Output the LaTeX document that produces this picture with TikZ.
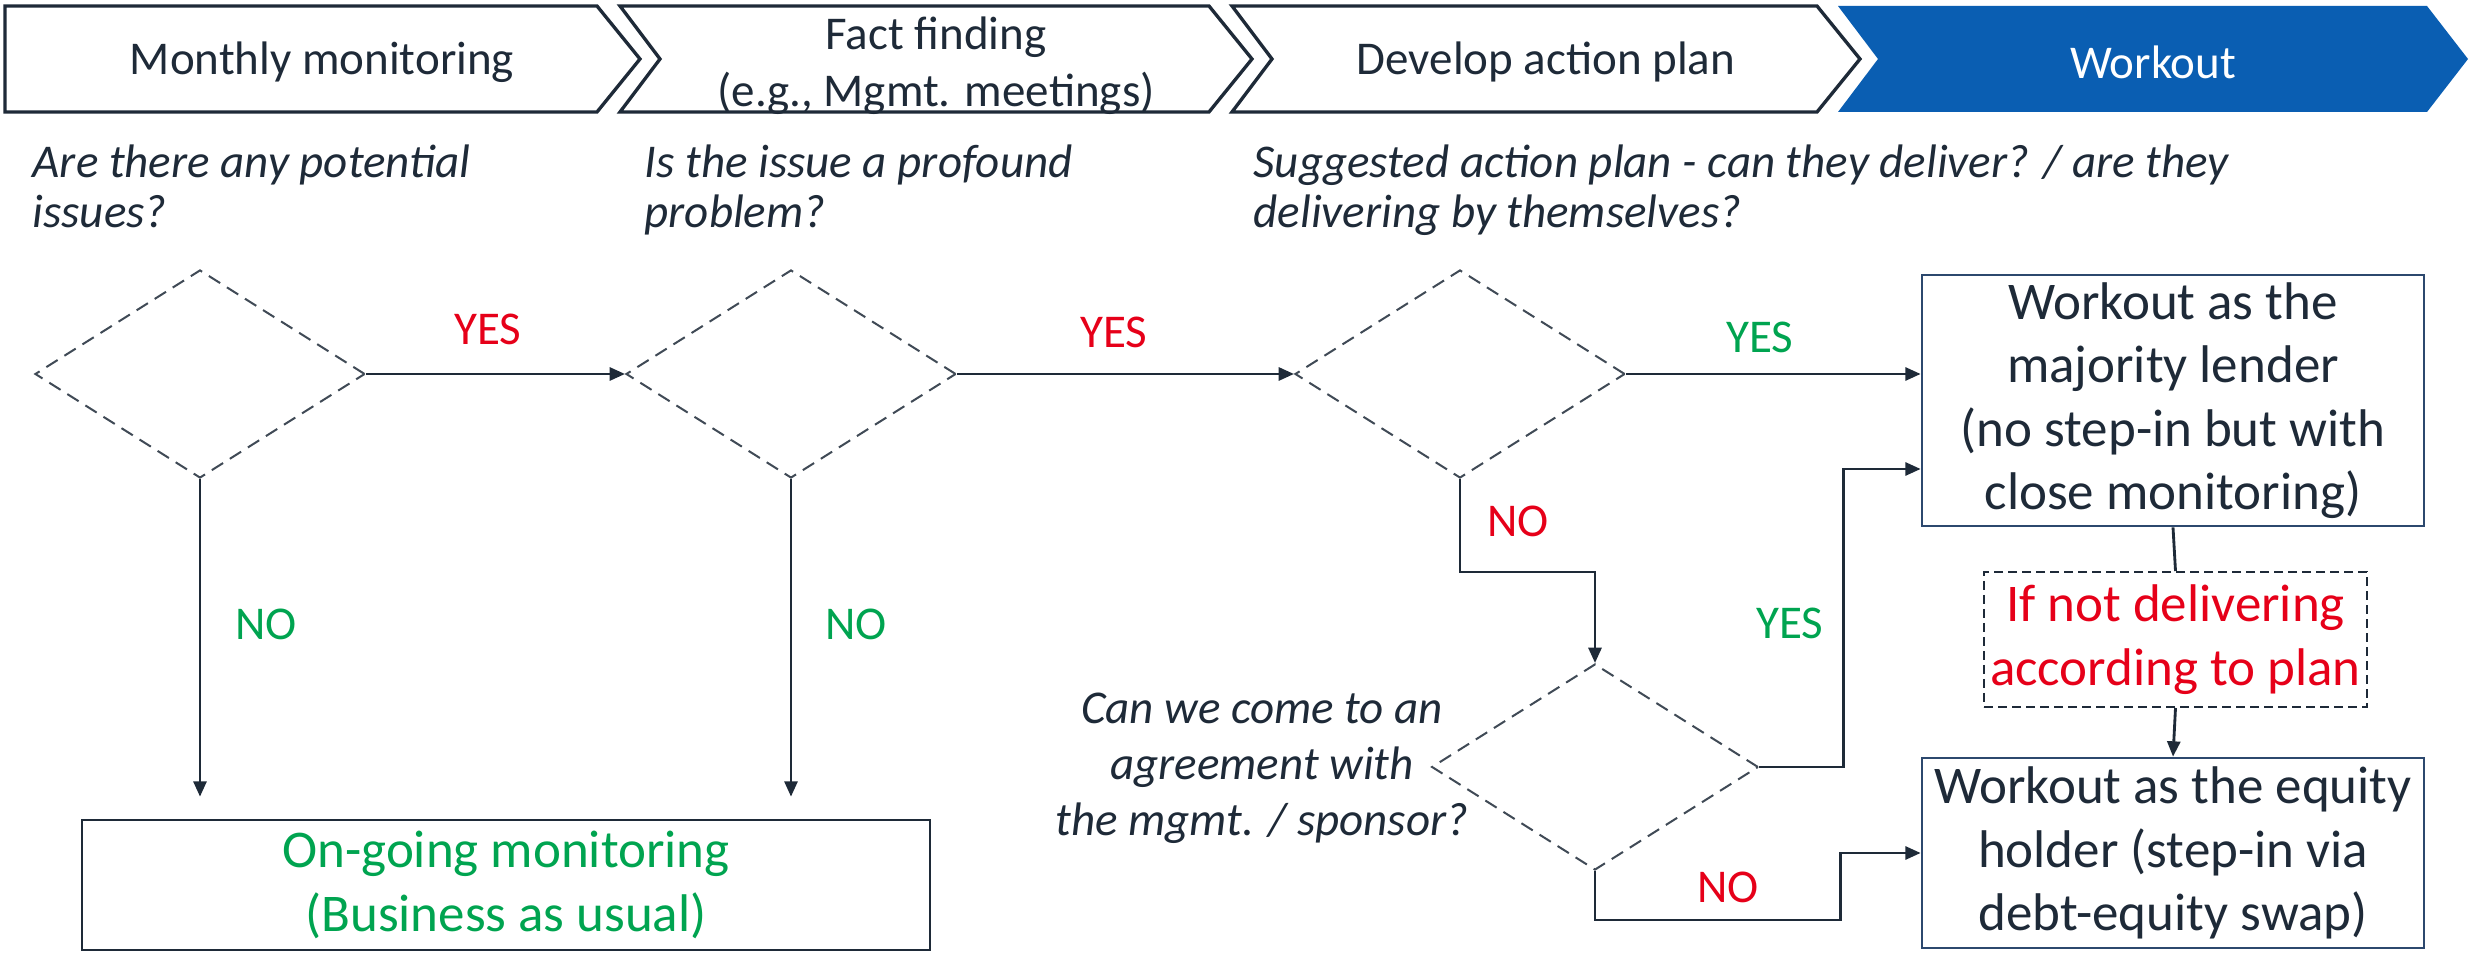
\documentclass[tikz,border=0pt]{standalone}
\usepackage{fontspec}
\setmainfont{Carlito}
\usetikzlibrary{shapes.geometric,arrows.meta,calc}
\definecolor{ink}{RGB}{30,42,56}
\definecolor{chevblue}{RGB}{10,94,178}
\definecolor{myred}{RGB}{230,0,25}
\definecolor{mygreen}{RGB}{0,164,80}
\definecolor{navy}{RGB}{44,72,110}
\begin{document}
\begin{tikzpicture}[x=0.3pt,y=-0.3pt,
  every node/.style={inner sep=0pt,text=ink},
  small/.style={font=\fontsize{14.1pt}{17pt}\selectfont},
  big/.style={font=\fontsize{15.9pt}{19pt}\selectfont},
  quest/.style={font=\fontsize{14.1pt}{16.8pt}\selectfont\itshape},
  topquest/.style={font=\fontsize{14.1pt}{15pt}\selectfont\itshape,align=left,anchor=north west},
  chev/.style={draw=ink,line width=1pt,line join=miter,fill=white},
  decision/.style={diamond,draw=ink!85,line width=0.6pt,dash pattern=on 4pt off 2.4pt,
    minimum width=99pt,minimum height=62.4pt,inner sep=0pt},
  box/.style={draw=navy,line width=0.8pt,big,align=center},
  conn/.style={draw=ink,line width=0.85pt},
  arr/.style={conn,-{Triangle[length=4.6pt,width=3.9pt]}},
  lab/.style={font=\fontsize{14.1pt}{17pt}\selectfont}
]
\useasboundingbox (0,0) rectangle (2471,955);
\fill[white] (0,0) rectangle (2471,955);

% chevrons
\draw[chev] (5,6) -- (597,6) -- (640,59) -- (597,112) -- (5,112) -- cycle;
\draw[chev] (620,6) -- (1209,6) -- (1252,59) -- (1209,112) -- (620,112) -- (660,59) -- cycle;
\draw[chev] (1232,6) -- (1817,6) -- (1860,59) -- (1817,112) -- (1232,112) -- (1272,59) -- cycle;
\fill[chevblue] (1838,6) -- (2427,6) -- (2468,59) -- (2427,112) -- (1838,112) -- (1878,59) -- cycle;

\node[small] (c1) at (322,62) {Monthly monitoring};
\node[small,align=center] (c2) at (936,66) {Fact finding\\(e.g., Mgmt. meetings)};
\node[small] (c3) at (1546,62) {Develop action plan};
\node[small,text=white] (c4) at (2153,62) {Workout};

% questions
\node[topquest] (q1) at (32,144) {Are there any potential\\issues?};
\node[topquest] (q2) at (644,144) {Is the issue a profound\\problem?};
\node[topquest] (q3) at (1253,144) {Suggested action plan - can they deliver? / are they\\delivering by themselves?};

% decisions
\node[decision] (d1) at (200,374) {};
\node[decision] (d2) at (791,374) {};
\node[decision] (d3) at (1460,374) {};
\node[decision,minimum width=98pt,minimum height=61.8pt] (d4) at (1595,767) {};
\node[quest,align=center] (q4) at (1262,768) {Can we come to an\\agreement with\\the mgmt. / sponsor?};

% boxes
\node[box,minimum width=150.6pt,minimum height=75.3pt] (A) at (2173,400.5)
  {Workout as the\\majority lender\\(no step-in but with\\close monitoring)};
\node[box,minimum width=150.6pt,minimum height=57pt] (B) at (2173,853)
  {Workout as the equity\\holder (step-in via\\debt-equity swap)};
\node[box,draw=ink,line width=0.6pt,dash pattern=on 2.6pt off 1.6pt,text=myred,
  minimum width=114.9pt,minimum height=40.5pt] (C) at (2175.5,639.5)
  {If not delivering\\according to plan};
\node[box,draw=ink,text=mygreen,minimum width=254.4pt,minimum height=39pt] (D) at (506,885)
  {On-going monitoring\\(Business as usual)};

% connectors
\draw[arr] (d1.east) -- (d2.west);
\draw[arr] (d2.east) -- (d3.west);
\draw[arr] (d3.east) -- (d3.east -| A.west);
\draw[arr,shorten >=6.6pt] (d1.south) -- (d1.south |- D.north);
\draw[arr,shorten >=6.6pt] (d2.south) -- (d2.south |- D.north);
\draw[arr] (d3.south) -- ++(0,93) -| (d4.north);
\draw[arr] (d4.east) -- ++(84,0) |- ($(A.west)+(0,68.5)$);
\draw[arr] (d4.south) -- ++(0,49) -| ($(B.west)+(-80,0)$) -- (B.west);
\draw[conn] (A.south) -- (C.north);
\draw[arr] (C.south) -- (B.north);

% labels
\node[lab,text=myred] (l1) at (488,329) {YES};
\node[lab,text=myred] (l2) at (1114,332) {YES};
\node[lab,text=mygreen] (l3) at (1760,337) {YES};
\node[lab,text=mygreen] (l4) at (266,624) {NO};
\node[lab,text=mygreen] (l5) at (856,624) {NO};
\node[lab,text=myred] (l6) at (1518,521) {NO};
\node[lab,text=mygreen] (l7) at (1790,623) {YES};
\node[lab,text=myred] (l8) at (1728,887) {NO};
\end{tikzpicture}
\end{document}
